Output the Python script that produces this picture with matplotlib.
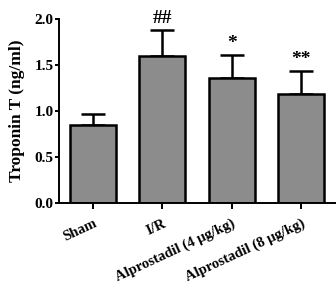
import matplotlib
matplotlib.use('Agg')
import matplotlib.pyplot as plt
import numpy as np

groups = ['Sham', 'I/R', 'Alprostadil (4 μg/kg)', 'Alprostadil (8 μg/kg)']
means = [0.85, 1.60, 1.36, 1.19]
errors = [0.12, 0.28, 0.25, 0.25]
marks = ['', '##', '*', '**']

plt.rcParams['font.family'] = ['Liberation Serif', 'DejaVu Serif']
plt.rcParams['font.weight'] = 'bold'

fig = plt.figure(figsize=(3.36, 2.84), dpi=100)
ax = fig.add_axes([0.176, 0.285, 0.821, 0.648])

x = np.arange(len(groups))
ax.bar(x, means, width=0.665, color='#8c8c8c', edgecolor='black', linewidth=1.8, zorder=2)
ax.errorbar(x, means, yerr=[np.zeros(len(means)), errors], fmt='none', ecolor='black',
            elinewidth=1.8, capsize=8.5, capthick=1.8, zorder=1)

for xi, m, e, s in zip(x, means, errors, marks):
    if s:
        ax.text(xi, m + e + 0.03, s, ha='center', va='bottom', fontsize=14,
                fontweight='bold', clip_on=False)

ax.set_xlim(-0.49, 3.49)
ax.set_ylim(0, 2.0)
ax.set_yticks([0.0, 0.5, 1.0, 1.5, 2.0])
ax.set_yticklabels(['0.0', '0.5', '1.0', '1.5', '2.0'], fontsize=11, fontweight='bold')
ax.set_xticks(x)
ax.set_xticklabels(groups, rotation=25, ha='right', rotation_mode='anchor',
                   fontsize=10.5, fontweight='bold')
# nudge labels a little right of the tick, as in the reference
import matplotlib.transforms as mtransforms
offset = mtransforms.ScaledTranslation(4 / 72, 0, fig.dpi_scale_trans)
for lab in ax.get_xticklabels():
    lab.set_transform(lab.get_transform() + offset)
ax.set_ylabel('Troponin T (ng/ml)', fontsize=12.5, fontweight='bold', labelpad=7)

for side in ['top', 'right']:
    ax.spines[side].set_visible(False)
for side in ['left', 'bottom']:
    ax.spines[side].set_linewidth(1.4)
ax.tick_params(axis='y', direction='out', width=1.4, length=3, pad=1)
ax.tick_params(axis='x', direction='out', width=1.4, length=4, pad=6)

fig.savefig('out.png', dpi=100)
